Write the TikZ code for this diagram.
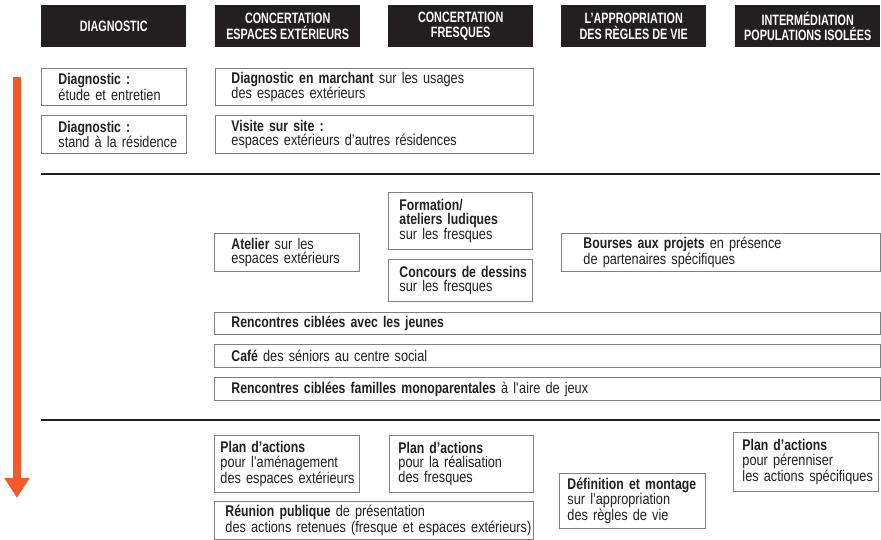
\documentclass[tikz,border=0pt]{standalone}
\usepackage{fontspec}
\setmainfont{Liberation Sans}[FakeStretch=0.82, BoldFeatures={FakeStretch=0.79}]
\newfontfamily\headfont{Liberation Sans}[FakeStretch=0.72]
\usetikzlibrary{arrows.meta}
\definecolor{hdrblack}{HTML}{231F20}
\definecolor{arroworange}{HTML}{F15A29}
\definecolor{boxgray}{HTML}{808080}

\tikzset{
  hdr/.style={fill=hdrblack, text=white, font=\headfont\bfseries\fontsize{15}{15.5}\selectfont,
    align=center, minimum width=145, minimum height=42, inner sep=0, anchor=north west},
  box/.style n args={3}{draw=boxgray, line width=0.9, text=hdrblack,
    font=\fontsize{15.5}{14.5}\selectfont, align=left, inner sep=0, anchor=north west,
    minimum width=#1, minimum height=#2, text width=#1,
    execute at begin node={\hyphenpenalty=10000\leftskip=#3pt\rightskip=-8pt plus 1fil}},
  rule/.style={line width=2.6, hdrblack},
  timearrow/.style={line width=7.5, arroworange, -{Triangle[width=24, length=20]}}
}

\begin{document}
\begin{tikzpicture}[x=1pt, y=-1pt]
\useasboundingbox (0,0) rectangle (881,540);

% column headers
\node[hdr] (hdiag) at (41,5) {DIAGNOSTIC};
\node[hdr] (hext) at (215,5) {CONCERTATION\\ESPACES EXTÉRIEURS};
\node[hdr] (hfres) at (388,5) {CONCERTATION\\FRESQUES};
\node[hdr] (hregl) at (561,5) {L’APPROPRIATION\\DES RÈGLES DE VIE};
\node[hdr] (hinter) at (735,5) {INTERMÉDIATION\\POPULATIONS ISOLÉES};

% time arrow
\coordinate (arrtop) at (17,77);
\coordinate (arrtip) at (17,498);
\draw[timearrow] (arrtop) -- (arrtip);

% phase 1
\node[box={145}{37}{17}] (diag1) at (41,68)
  {\textbf{Diagnostic :}\\étude et entretien};
\node[box={145}{38}{17}] (diag2) at (41,115)
  {\textbf{Diagnostic :}\\stand à la résidence};
\node[box={318}{37}{16}] (marche) at (215,68)
  {\textbf{Diagnostic en marchant} sur les usages\\des espaces extérieurs};
\node[box={318}{38}{16}] (visite) at (215,115)
  {\textbf{Visite sur site :}\\espaces extérieurs d’autres résidences};

\coordinate (ruleAa) at (41,174);
\coordinate (ruleAb) at (880,174);
\draw[rule] (ruleAa) -- (ruleAb);

% phase 2
\node[box={145}{38}{17}] (atelier) at (214,233)
  {\textbf{Atelier} sur les\\espaces extérieurs};
\node[box={144}{57}{11}] (formation) at (388,192)
  {\textbf{Formation/}\\\textbf{ateliers ludiques}\\sur les fresques};
\node[box={144}{42}{11}] (concours) at (388,259)
  {\textbf{Concours de dessins}\\sur les fresques};
\node[box={319}{38}{22}] (bourses) at (561,233)
  {\textbf{Bourses aux projets} en présence\\de partenaires spécifiques};
\node[box={666}{22}{17}] (jeunes) at (214,312)
  {\textbf{Rencontres ciblées avec les jeunes}};
\node[box={666}{23}{17}] (cafe) at (214,344)
  {\textbf{Café} des séniors au centre social};
\node[box={666}{23}{17}] (familles) at (214,377)
  {\textbf{Rencontres ciblées familles monoparentales} à l\textquotesingle aire de jeux};

\coordinate (ruleBa) at (41,420);
\coordinate (ruleBb) at (880,420);
\draw[rule] (ruleBa) -- (ruleBb);

% phase 3
\node[box={145}{57}{6}] (plan1) at (214,435)
  {\textbf{Plan d’actions}\\pour l’aménagement\\des espaces extérieurs};
\node[box={144}{57}{9}] (plan2) at (389,435)
  {\textbf{Plan d’actions}\\pour la réalisation\\des fresques};
\node[box={319}{38}{11}] (reunion) at (214,501)
  {\textbf{Réunion publique} de présentation\\des actions retenues (fresque et espaces extérieurs)};
\node[box={146}{55}{8}] (definition) at (559,473)
  {\textbf{Définition et montage}\\sur l’appropriation\\des règles de vie};
\node[box={145}{59}{9}] (plan3) at (733,432)
  {\textbf{Plan d’actions}\\pour pérenniser\\les actions spécifiques};
\end{tikzpicture}
\end{document}
